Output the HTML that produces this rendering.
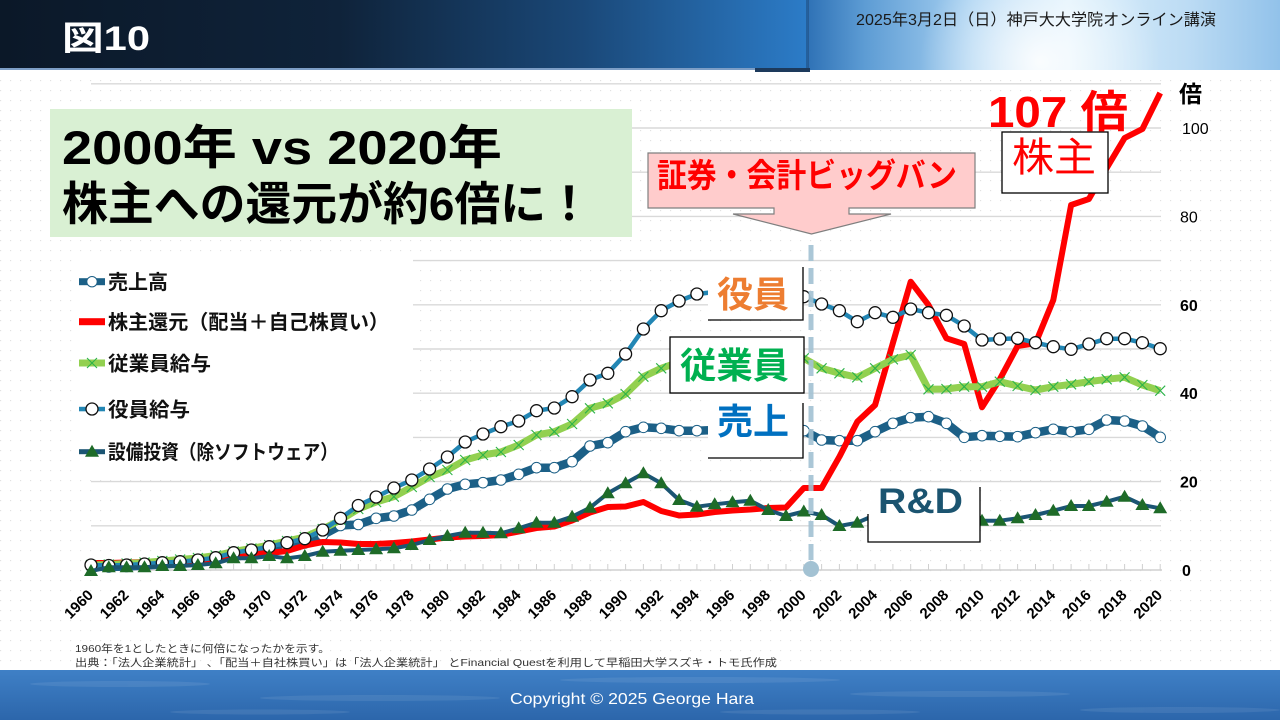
<!DOCTYPE html>
<html><head><meta charset="utf-8"><style>
html,body{margin:0;padding:0;background:#fff;}
svg{display:block;}
text{font-family:"Liberation Sans","Noto Sans CJK JP",sans-serif;}
</style></head><body>
<svg width="1280" height="720" viewBox="0 0 1280 720" xmlns="http://www.w3.org/2000/svg">
<defs>
<linearGradient id="hl" x1="0" y1="0" x2="1" y2="0">
<stop offset="0" stop-color="#0b1828"/><stop offset="0.42" stop-color="#0f233a"/><stop offset="0.72" stop-color="#1a4878"/><stop offset="1" stop-color="#2c7cc8"/>
</linearGradient>
<linearGradient id="hr" x1="0" y1="0" x2="1" y2="0">
<stop offset="0" stop-color="#2f72b6"/><stop offset="0.12" stop-color="#5d9cd4"/><stop offset="0.35" stop-color="#a9d2f2"/><stop offset="0.55" stop-color="#dcf0fc"/><stop offset="0.8" stop-color="#bddcf4"/><stop offset="1" stop-color="#92c2ea"/>
</linearGradient>
<radialGradient id="glow" cx="1040" cy="62" r="120" gradientUnits="userSpaceOnUse">
<stop offset="0" stop-color="#ffffff" stop-opacity="0.9"/><stop offset="1" stop-color="#ffffff" stop-opacity="0"/>
</radialGradient>
<linearGradient id="ft" x1="0" y1="0" x2="0" y2="1">
<stop offset="0" stop-color="#3f80c6"/><stop offset="1" stop-color="#2c66ab"/>
</linearGradient>
<pattern id="dots" width="10" height="10" patternUnits="userSpaceOnUse"><rect x="0" y="0" width="1.2" height="1.2" fill="#e2e2e2"/></pattern>
<marker id="mS" markerUnits="userSpaceOnUse" markerWidth="20" markerHeight="20" refX="10" refY="10" overflow="visible"><circle cx="10" cy="10" r="5.3" fill="#fff" stroke="#1c6087" stroke-width="1"/></marker>
<marker id="mY" markerUnits="userSpaceOnUse" markerWidth="20" markerHeight="20" refX="10" refY="10" overflow="visible"><circle cx="10" cy="10" r="6" fill="#fff" stroke="#111" stroke-width="1.3"/></marker>
<marker id="mE" markerUnits="userSpaceOnUse" markerWidth="20" markerHeight="20" refX="10" refY="10" overflow="visible"><path d="M5,5 L15,15 M5,15 L15,5" stroke="#2cb34a" stroke-width="1.1" fill="none"/></marker>
<marker id="mC" markerUnits="userSpaceOnUse" markerWidth="20" markerHeight="20" refX="10" refY="10" overflow="visible"><path d="M10,3 L3,15 L17,15 Z" fill="#1e6b28"/></marker>
</defs>

<!-- background -->
<rect x="0" y="0" width="1280" height="720" fill="#fff"/>
<rect x="0" y="72" width="1280" height="598" fill="url(#dots)"/>

<!-- header -->
<rect x="0" y="0" width="808" height="70" fill="url(#hl)"/>
<rect x="808" y="0" width="472" height="70" fill="url(#hr)"/>
<rect x="808" y="0" width="472" height="70" fill="url(#glow)"/>
<rect x="806" y="0" width="3" height="70" fill="#1f4f80" opacity="0.6"/>
<rect x="0" y="68" width="755" height="2" fill="#7d9ec6"/>
<rect x="755" y="68" width="55" height="4" fill="#1d3a5c"/>
<text x="62" y="50" font-size="34" font-weight="700" fill="#fff" textLength="88" lengthAdjust="spacingAndGlyphs">図10</text>
<text x="856" y="25" font-size="16" fill="#1a1a1a" textLength="360" lengthAdjust="spacingAndGlyphs">2025年3月2日（日）神戸大大学院オンライン講演</text>

<!-- gridlines -->
<g stroke="#d9d9d9" stroke-width="1.4">
<line x1="91" y1="525.8" x2="1161" y2="525.8"/>
<line x1="91" y1="481.6" x2="1161" y2="481.6"/>
<line x1="91" y1="437.4" x2="1161" y2="437.4"/>
<line x1="91" y1="393.2" x2="1161" y2="393.2"/>
<line x1="91" y1="349" x2="1161" y2="349"/>
<line x1="91" y1="304.8" x2="1161" y2="304.8"/>
<line x1="91" y1="260.6" x2="1161" y2="260.6"/>
<line x1="91" y1="216.4" x2="1161" y2="216.4"/>
<line x1="91" y1="172.2" x2="1161" y2="172.2"/>
<line x1="91" y1="128" x2="1161" y2="128"/>
<line x1="91" y1="83.8" x2="1161" y2="83.8"/>
</g>
<line x1="88" y1="570" x2="1162" y2="570" stroke="#d0d0d0" stroke-width="1.5"/>
<path stroke="#d0d0d0" stroke-width="1" fill="none" d="M91,564V570M108.8,564V570M126.6,564V570M144.5,564V570M162.3,564V570M180.1,564V570M197.9,564V570M215.7,564V570M233.6,564V570M251.4,564V570M269.2,564V570M287,564V570M304.8,564V570M322.7,564V570M340.5,564V570M358.3,564V570M376.1,564V570M393.9,564V570M411.8,564V570M429.6,564V570M447.4,564V570M465.2,564V570M483,564V570M500.9,564V570M518.7,564V570M536.5,564V570M554.3,564V570M572.1,564V570M590,564V570M607.8,564V570M625.6,564V570M643.4,564V570M661.2,564V570M679.1,564V570M696.9,564V570M714.7,564V570M732.5,564V570M750.3,564V570M768.2,564V570M786,564V570M803.8,564V570M821.6,564V570M839.4,564V570M857.3,564V570M875.1,564V570M892.9,564V570M910.7,564V570M928.5,564V570M946.4,564V570M964.2,564V570M982,564V570M999.8,564V570M1017.6,564V570M1035.5,564V570M1053.3,564V570M1071.1,564V570M1088.9,564V570M1106.7,564V570M1124.6,564V570M1142.4,564V570M1160.2,564V570"/>

<!-- series: 売上高 -->
<polyline fill="none" stroke="#1c6087" stroke-width="8.5" stroke-linejoin="round" marker-start="url(#mS)" marker-mid="url(#mS)" marker-end="url(#mS)" points="91,566.5 108.8,567 126.6,566.5 144.5,565.5 162.3,564.5 180.1,563.5 197.9,562 215.7,560 233.6,555.5 251.4,553 269.2,550 287,547 304.8,543 322.7,535 340.5,525.5 358.3,524.5 376.1,518.3 393.9,516 411.8,510 429.6,499.3 447.4,489 465.2,484.3 483,482.7 500.9,480 518.7,474.3 536.5,467.7 554.3,467.7 572.1,461.7 590,446 607.8,442.7 625.6,431.7 643.4,427.3 661.2,428.3 679.1,430.7 696.9,430.7 714.7,430 732.5,429 750.3,430 768.2,432 786,432 803.8,430.7 821.6,440 839.4,440.7 857.3,440.7 875.1,431.7 892.9,423.3 910.7,417.7 928.5,416.7 946.4,423.3 964.2,437.3 982,435.7 999.8,436.3 1017.6,436.7 1035.5,432.7 1053.3,429.3 1071.1,431.7 1088.9,429.3 1106.7,420 1124.6,421 1142.4,426 1160.2,437.3"/>

<!-- 株主還元 -->
<polyline fill="none" stroke="#ff0000" stroke-width="6" stroke-linejoin="round" points="91,563 108.8,563 126.6,562.5 144.5,562 162.3,561.5 180.1,561 197.9,560.5 215.7,559 233.6,556 251.4,554.5 269.2,553 287,551 304.8,545.5 322.7,542 340.5,542.5 358.3,544 376.1,544 393.9,543 411.8,541.5 429.6,539.5 447.4,537.5 465.2,536.5 483,536 500.9,535 518.7,531.5 536.5,528 554.3,526.5 572.1,520.5 590,512.5 607.8,507 625.6,506.5 643.4,502 661.2,511 679.1,515.5 696.9,514.5 714.7,512 732.5,510.5 750.3,509.5 768.2,508 786,507.5 803.8,488 821.6,488 839.4,456.7 857.3,421.7 875.1,405 892.9,343 910.7,281.7 928.5,305 946.4,338.3 964.2,344 982,407.3 999.8,379.3 1017.6,346 1035.5,343.3 1053.3,300 1071.1,205 1088.9,199 1106.7,168 1124.6,138 1142.4,129 1160.2,93"/>

<!-- 従業員給与 -->
<polyline fill="none" stroke="#92d050" stroke-width="7" stroke-linejoin="round" marker-start="url(#mE)" marker-mid="url(#mE)" marker-end="url(#mE)" points="91,565 108.8,564.5 126.6,563.5 144.5,562.5 162.3,561 180.1,559.5 197.9,558 215.7,555.5 233.6,551.5 251.4,548.5 269.2,545 287,541 304.8,537 322.7,529 340.5,520 358.3,509 376.1,502 393.9,496.7 411.8,487 429.6,477 447.4,470 465.2,460 483,455 500.9,452 518.7,445 536.5,435 554.3,431.7 572.1,424 590,408.3 607.8,403.3 625.6,394 643.4,376.7 661.2,368.3 679.1,362 696.9,358 714.7,356 732.5,355 750.3,355 768.2,356 786,357 803.8,358.3 821.6,368.3 839.4,373.3 857.3,377.3 875.1,368.3 892.9,359.3 910.7,355 928.5,389.3 946.4,389 964.2,386.7 982,386.7 999.8,381.7 1017.6,386 1035.5,390 1053.3,386.7 1071.1,384.3 1088.9,381.7 1106.7,379.3 1124.6,377.3 1142.4,385 1160.2,390.7"/>

<!-- 役員給与 -->
<polyline fill="none" stroke="#2286b4" stroke-width="4.5" stroke-linejoin="round" marker-start="url(#mY)" marker-mid="url(#mY)" marker-end="url(#mY)" points="91,565 108.8,565.5 126.6,565 144.5,564 162.3,562.7 180.1,561.7 197.9,560 215.7,557.7 233.6,552.7 251.4,550 269.2,546.7 287,542.7 304.8,538.7 322.7,530 340.5,518.3 358.3,505.5 376.1,497 393.9,488 411.8,480 429.6,469 447.4,457 465.2,442 483,434 500.9,426.7 518.7,421 536.5,410.7 554.3,408 572.1,396.7 590,380 607.8,373.3 625.6,354 643.4,329 661.2,310.7 679.1,301 696.9,294 714.7,292 732.5,291 750.3,290 768.2,292 786,293 803.8,296.7 821.6,304 839.4,310.7 857.3,321.7 875.1,312.7 892.9,317.3 910.7,309 928.5,312.7 946.4,315.3 964.2,326 982,340 999.8,339 1017.6,338.3 1035.5,342.7 1053.3,346.7 1071.1,349.3 1088.9,344 1106.7,338.7 1124.6,338.7 1142.4,342.7 1160.2,348.7"/>

<!-- 設備投資 -->
<polyline fill="none" stroke="#1b5573" stroke-width="4" stroke-linejoin="round" marker-start="url(#mC)" marker-mid="url(#mC)" marker-end="url(#mC)" points="91,571 108.8,567.3 126.6,567.3 144.5,567.3 162.3,566 180.1,566 197.9,565 215.7,563.3 233.6,558.3 251.4,558.3 269.2,556 287,558.3 304.8,556 322.7,551.7 340.5,550.7 358.3,550 376.1,549.3 393.9,548.3 411.8,545 429.6,540 447.4,536 465.2,532.7 483,532.7 500.9,533.3 518.7,528.3 536.5,522.7 554.3,522.7 572.1,516.7 590,507.7 607.8,493.3 625.6,483.3 643.4,473.3 661.2,483.3 679.1,500 696.9,506.7 714.7,504.3 732.5,502.3 750.3,500.7 768.2,510 786,516 803.8,511.5 821.6,515 839.4,526 857.3,522.7 875.1,515 892.9,510 910.7,507 928.5,508 946.4,512 964.2,518 982,520.7 999.8,520.7 1017.6,518.3 1035.5,515 1053.3,510.7 1071.1,506 1088.9,506 1106.7,501.7 1124.6,496.7 1142.4,505 1160.2,508.3"/>

<!-- dashed 2000 line -->
<line x1="811" y1="245" x2="811" y2="562" stroke="#a3c2d3" stroke-width="5" stroke-dasharray="16 7" opacity="0.9"/>
<circle cx="811" cy="569" r="8" fill="#a3c2d3"/>

<!-- x labels -->
<g font-size="15" font-weight="700" fill="#000" text-anchor="end">
<text transform="translate(94,596) rotate(-45)">1960</text>
<text transform="translate(129.6,596) rotate(-45)">1962</text>
<text transform="translate(165.3,596) rotate(-45)">1964</text>
<text transform="translate(200.9,596) rotate(-45)">1966</text>
<text transform="translate(236.6,596) rotate(-45)">1968</text>
<text transform="translate(272.2,596) rotate(-45)">1970</text>
<text transform="translate(307.8,596) rotate(-45)">1972</text>
<text transform="translate(343.5,596) rotate(-45)">1974</text>
<text transform="translate(379.1,596) rotate(-45)">1976</text>
<text transform="translate(414.8,596) rotate(-45)">1978</text>
<text transform="translate(450.4,596) rotate(-45)">1980</text>
<text transform="translate(486,596) rotate(-45)">1982</text>
<text transform="translate(521.7,596) rotate(-45)">1984</text>
<text transform="translate(557.3,596) rotate(-45)">1986</text>
<text transform="translate(593,596) rotate(-45)">1988</text>
<text transform="translate(628.6,596) rotate(-45)">1990</text>
<text transform="translate(664.2,596) rotate(-45)">1992</text>
<text transform="translate(699.9,596) rotate(-45)">1994</text>
<text transform="translate(735.5,596) rotate(-45)">1996</text>
<text transform="translate(771.2,596) rotate(-45)">1998</text>
<text transform="translate(806.8,596) rotate(-45)">2000</text>
<text transform="translate(842.4,596) rotate(-45)">2002</text>
<text transform="translate(878.1,596) rotate(-45)">2004</text>
<text transform="translate(913.7,596) rotate(-45)">2006</text>
<text transform="translate(949.4,596) rotate(-45)">2008</text>
<text transform="translate(985,596) rotate(-45)">2010</text>
<text transform="translate(1020.6,596) rotate(-45)">2012</text>
<text transform="translate(1056.3,596) rotate(-45)">2014</text>
<text transform="translate(1091.9,596) rotate(-45)">2016</text>
<text transform="translate(1127.6,596) rotate(-45)">2018</text>
<text transform="translate(1163.2,596) rotate(-45)">2020</text>
</g>

<!-- right axis -->
<g font-size="16" fill="#000">
<text x="1182" y="576" font-weight="700">0</text>
<text x="1180" y="487.6" font-weight="700">20</text>
<text x="1180" y="399.2" font-weight="700">40</text>
<text x="1180" y="310.8" font-weight="700">60</text>
<text x="1180" y="222.4">80</text>
<text x="1182" y="134">100</text>
</g>
<text x="1179" y="102" font-size="23" font-weight="700" fill="#000">倍</text>

<!-- legend -->
<rect x="72" y="252" width="341" height="220" fill="#fff"/>
<rect x="79" y="278.2" width="26" height="7" fill="#1c6087"/>
<circle cx="92" cy="281.7" r="5.2" fill="#fff" stroke="#1c6087" stroke-width="1"/>
<rect x="79" y="318.2" width="26" height="7" fill="#ff0000"/>
<rect x="79" y="359.5" width="26" height="7" fill="#92d050"/>
<path d="M87,358 L97,368 M87,368 L97,358" stroke="#2cb34a" stroke-width="1.1"/>
<rect x="79" y="406.8" width="26" height="4.5" fill="#2286b4"/>
<circle cx="92" cy="409" r="6" fill="#fff" stroke="#111" stroke-width="1.3"/>
<rect x="79" y="449.2" width="26" height="5" fill="#1b5573"/>
<path d="M92,444.7 L85,456.7 L99,456.7 Z" fill="#1e6b28"/>
<g font-size="20" font-weight="700" fill="#111">
<text x="108" y="289">売上高</text>
<text x="108" y="329" textLength="281" lengthAdjust="spacingAndGlyphs">株主還元（配当＋自己株買い）</text>
<text x="108" y="370.5" textLength="103" lengthAdjust="spacingAndGlyphs">従業員給与</text>
<text x="108" y="416.5" textLength="82" lengthAdjust="spacingAndGlyphs">役員給与</text>
<text x="108" y="459" textLength="230" lengthAdjust="spacingAndGlyphs">設備投資（除ソフトウェア）</text>
</g>

<!-- title box -->
<rect x="50" y="109" width="582" height="128" fill="#d9f0d3"/>
<text x="62" y="164" font-size="47" font-weight="700" fill="#000" textLength="440" lengthAdjust="spacingAndGlyphs">2000年 vs 2020年</text>
<text x="62" y="220" font-size="46" font-weight="700" fill="#000" textLength="530" lengthAdjust="spacingAndGlyphs">株主への還元が約6倍に！</text>

<!-- callout -->
<path d="M648,153 H975 V208 H849 V214 H891 L811.5,234 L733,214 H774 V208 H648 Z" fill="#ffcccc" stroke="#7f7f7f" stroke-width="1.2"/>
<text x="657" y="187" font-size="33" font-weight="700" fill="#ff0000" textLength="300" lengthAdjust="spacingAndGlyphs">証券・会計ビッグバン</text>

<!-- 役員 box -->
<rect x="708" y="267" width="95" height="53" fill="#fff"/>
<path d="M803,267 V320 H708" fill="none" stroke="#000" stroke-width="1.3"/>
<text x="717" y="307" font-size="36" font-weight="700" fill="#ed7d31" textLength="72" lengthAdjust="spacingAndGlyphs">役員</text>

<!-- 従業員 box -->
<rect x="670" y="337" width="134" height="56" fill="#fff" stroke="#000" stroke-width="1.3"/>
<text x="680" y="378" font-size="36" font-weight="700" fill="#00b050" textLength="109" lengthAdjust="spacingAndGlyphs">従業員</text>

<!-- 売上 box -->
<rect x="708" y="396" width="95" height="62" fill="#fff"/>
<path d="M803,403 V458 H708" fill="none" stroke="#000" stroke-width="1.3"/>
<text x="717" y="434" font-size="36" font-weight="700" fill="#0070c0" textLength="72" lengthAdjust="spacingAndGlyphs">売上</text>

<!-- R&D box -->
<rect x="868" y="487" width="112" height="55" fill="#fff"/>
<path d="M868,514 V542 H980 V487" fill="none" stroke="#000" stroke-width="1.3"/>
<text x="878" y="513" font-size="35" font-weight="700" fill="#1b5470" textLength="85" lengthAdjust="spacingAndGlyphs">R&amp;D</text>

<!-- 株主 box -->
<rect x="1002" y="132" width="106" height="61" fill="#fff" stroke="#000" stroke-width="1.3"/>
<text x="1012" y="171" font-size="40" fill="#ff0000" textLength="84" lengthAdjust="spacingAndGlyphs">株主</text>
<text x="988" y="127" font-size="44" font-weight="700" fill="#ff0000" textLength="140" lengthAdjust="spacingAndGlyphs">107 倍</text>

<!-- notes -->
<text x="75" y="652" font-size="10.5" fill="#333" textLength="255" lengthAdjust="spacingAndGlyphs">1960年を1としたときに何倍になったかを示す。</text>
<text x="75" y="666" font-size="10.5" fill="#333" textLength="702" lengthAdjust="spacingAndGlyphs">出典：「法人企業統計」 、「配当＋自社株買い」は「法人企業統計」 とFinancial Questを利用して早稲田大学スズキ・トモ氏作成</text>

<!-- footer -->
<rect x="0" y="670" width="1280" height="50" fill="url(#ft)"/>
<g fill="#ffffff" opacity="0.08">
<ellipse cx="120" cy="684" rx="90" ry="3"/>
<ellipse cx="380" cy="698" rx="120" ry="3"/>
<ellipse cx="700" cy="680" rx="140" ry="3"/>
<ellipse cx="960" cy="694" rx="110" ry="3"/>
<ellipse cx="1180" cy="710" rx="100" ry="3"/>
<ellipse cx="260" cy="712" rx="90" ry="2.5"/>
<ellipse cx="820" cy="712" rx="100" ry="2.5"/>
</g>
<text x="510" y="704" font-size="16" fill="#ffffff" textLength="244" lengthAdjust="spacingAndGlyphs">Copyright © 2025 George Hara</text>
</svg>
</body></html>
